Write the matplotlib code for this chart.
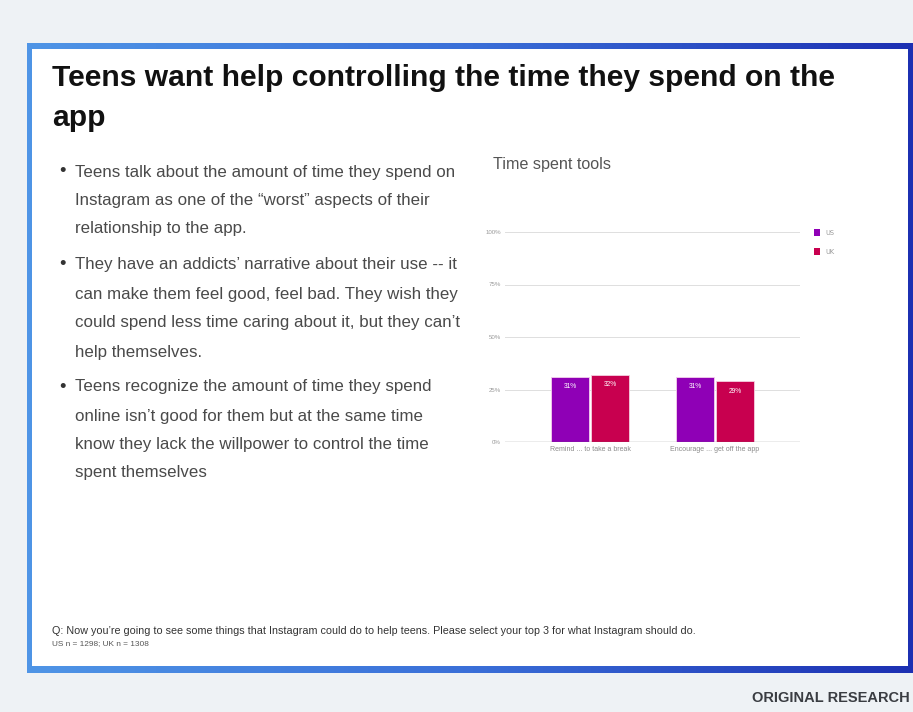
import matplotlib
matplotlib.use("Agg")
import matplotlib.pyplot as plt
import numpy as np
from matplotlib.patches import Rectangle
from matplotlib.colors import LinearSegmentedColormap

# ---------------- data ----------------
categories = ["Remind ... to take a break", "Encourage ... get off the app"]
series_names = ["US", "UK"]
us_values = [31, 31]
uk_values = [32, 29]
y_ticks = [0, 25, 50, 75, 100]
y_tick_labels = ["0%", "25%", "50%", "75%", "100%"]

title_lines = ["Teens want help controlling the time they spend on the", "app"]
bullets = [
    ["Teens talk about the amount of time they spend on",
     "Instagram as one of the \u201cworst\u201d aspects of their",
     "relationship to the app."],
    ["They have an addicts\u2019 narrative about their use -- it",
     "can make them feel good, feel bad. They wish they",
     "could spend less time caring about it, but they can\u2019t",
     "help themselves."],
    ["Teens recognize the amount of time they spend",
     "online isn\u2019t good for them but at the same time",
     "know they lack the willpower to control the time",
     "spent themselves"],
]
chart_title = "Time spent tools"
footnote = ("Q: Now you\u2019re going to see some things that Instagram could do to help teens. "
            "Please select your top 3 for what Instagram should do.")
footnote2 = "US n = 1298; UK n = 1308"
brand = "ORIGINAL RESEARCH"

US_COLOR = "#8f00b6"
UK_COLOR = "#c8004f"
SANS = ["Liberation Sans"]

W, H = 913, 712
fig = plt.figure(figsize=(W / 100, H / 100), dpi=100)
fig.patch.set_facecolor("#eef2f5")

# background axes in pixel coordinates
bg = fig.add_axes([0, 0, 1, 1])
bg.axis("off")

# gradient frame
cmap = LinearSegmentedColormap.from_list("frame", ["#4f95e6", "#3a6fd8", "#1c2fb2"])
grad = np.linspace(0, 1, 256).reshape(1, -1)
bg.imshow(grad, cmap=cmap, aspect="auto", extent=[27, 918, 673, 43], zorder=1)
bg.add_patch(Rectangle((32, 49), 876, 617, facecolor="white", edgecolor="none", zorder=2))
bg.set_xlim(0, W)
bg.set_ylim(H, 0)

renderer = fig.canvas.get_renderer()


def px_text(x, y, s, target_w=None, size=12, **kw):
    t = fig.text(x / W, 1 - y / H, s, fontsize=size, **kw)
    if target_w is not None:
        w = t.get_window_extent(renderer).width
        t.set_fontsize(size * target_w / w)
    return t


# title
t1 = px_text(52, 78, title_lines[0], target_w=783, size=22, fontweight="bold",
             family=SANS, color="#111111", va="center", ha="left")
tsize = t1.get_fontsize()
px_text(52, 118, title_lines[1], size=tsize, fontweight="bold",
        family=SANS, color="#111111", va="center", ha="left")

# bullets
ref = px_text(75, 172, bullets[0][0], target_w=377, size=13,
              family=SANS, color="#4a4a4a", va="center", ha="left")
bsize = ref.get_fontsize()
ref.remove()
line_y = [[172, 200, 229], [265, 294, 323, 352], [387, 417, 445, 473]]
for para, ys in zip(bullets, line_y):
    px_text(62, ys[0], "\u2022", size=bsize * 1.1, family=SANS,
            color="#333333", va="center", ha="center")
    for line, yy in zip(para, ys):
        px_text(75, yy, line, size=bsize, family=SANS,
                color="#4a4a4a", va="center", ha="left")

# chart title
px_text(493, 165, chart_title, target_w=117, size=11, family=SANS,
        color="#555555", va="center", ha="left")

# footnotes
px_text(52, 631, footnote, target_w=645, size=8, family=SANS,
        color="#333333", va="center", ha="left")
px_text(52, 644, footnote2, target_w=98, size=6, family=SANS,
        color="#555555", va="center", ha="left")

# brand
px_text(752, 698, brand, target_w=158, size=11.5, fontweight="bold", family=SANS,
        color="#3a3d42", va="center", ha="left")

# ---------------- chart ----------------
ax_l, ax_r, ax_t, ax_b = 505, 800, 232, 442
ax = fig.add_axes([ax_l / W, 1 - ax_b / H, (ax_r - ax_l) / W, (ax_b - ax_t) / H])
ax.set_facecolor("none")
x = np.arange(len(categories))
bw = 0.31
bars_us = ax.bar(x - bw / 2 - 0.005, us_values, bw, color=US_COLOR, edgecolor="#f4d0ec",
                 linewidth=0.6, label=series_names[0], zorder=3)
bars_uk = ax.bar(x + bw / 2 + 0.005, uk_values, bw, color=UK_COLOR, edgecolor="#f4d0e0",
                 linewidth=0.6, label=series_names[1], zorder=3)
for bars in (bars_us, bars_uk):
    for b in bars:
        h = b.get_height()
        ax.text(b.get_x() + b.get_width() / 2, h - 4.8, f"{h:.0f}%", ha="center", va="center",
                fontsize=4.8, color="white", family=SANS, zorder=4)

ax.set_xlim(-0.68, 1.68)
ax.set_ylim(0, 100)
ax.set_yticks(y_ticks)
ax.set_yticklabels(y_tick_labels, fontsize=4.4, color="#9a9a9a", family=SANS)
ax.set_xticks(x)
ax.set_xticklabels(categories, fontsize=5.0, color="#8a8a8a", family=SANS)
ax.tick_params(axis="both", length=0, pad=3)
for s in ax.spines.values():
    s.set_visible(False)
for yv in y_ticks[1:]:
    ax.axhline(yv, color="#dedede", linewidth=0.7, zorder=1)
ax.axhline(0, color="#6a6a6a", linewidth=0.9, zorder=5)

leg = ax.legend(handles=[bars_us, bars_uk], labels=series_names, loc="upper left",
                bbox_to_anchor=(811 / W, 1 - 226 / H), bbox_transform=fig.transFigure,
                frameon=False, fontsize=4.8, handlelength=0.9, handleheight=1.25,
                handletextpad=0.7, labelspacing=1.8, borderpad=0)
for txt in leg.get_texts():
    txt.set_color("#9a9a9a")
for hnd in leg.legend_handles:
    hnd.set_edgecolor("none")

fig.savefig("out.png", dpi=100, facecolor=fig.get_facecolor())
